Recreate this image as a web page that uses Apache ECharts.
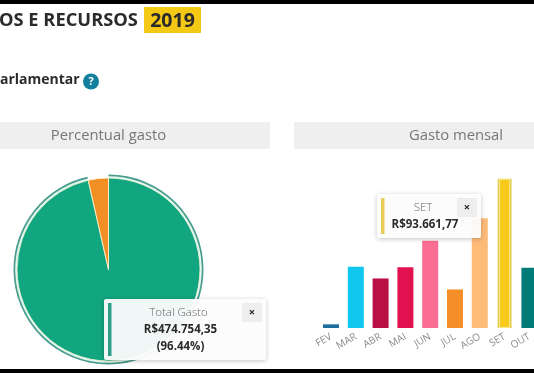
<!DOCTYPE html>
<html>
<head>
<meta charset="utf-8">
<style>
html, body { margin: 0; padding: 0; background: #fff; }
#main { width: 534px; height: 373px; }
</style>
<script src="https://cdn.jsdelivr.net/npm/echarts@6/dist/echarts.min.js"></script>
</head>
<body>
<div id="main"></div>
<script>
const pieNames = ['Total Gasto', 'Disponível'];
const pieValues = [474754.35, 17520];
const pieColors = ['#12a680', '#f28f24'];

const months = ['FEV', 'MAR', 'ABR', 'MAI', 'JUN', 'JUL', 'AGO', 'SET', 'OUT'];
const monthValues = [2300, 38500, 31100, 38100, 54800, 24200, 68900, 93661.77, 37800];
const monthColors = ['#1b6d9b', '#10c7ef', '#b80f45', '#e1124f', '#fb6d93', '#f48e29', '#fdbb78', '#f8ca1c', '#007b78'];
const selectedMonth = 'SET';

const font = '"Open Sans"';

var chart = echarts.init(document.getElementById('main'));

// caixa de tooltip fixa, igual as do painel
function tipBox(x, y, w, h, color, lines) {
    var els = [
        { type: 'rect', shape: { x: x, y: y, width: w, height: h, r: 2 },
          style: { fill: 'rgba(255,255,255,0.94)', shadowBlur: 5, shadowColor: 'rgba(0,0,0,0.25)', shadowOffsetY: 1 }, z: 20 },
        { type: 'rect', shape: { x: x + 4, y: y + 4, width: 3.5, height: h - 8 }, style: { fill: color }, z: 21 },
        { type: 'rect', shape: { x: x + w - 24, y: y + 4, width: 20, height: 19 }, style: { fill: '#eeeeee' }, z: 21 },
        { type: 'text', x: x + w - 14, y: y + 13.5, z: 22,
          style: { text: '×', fill: '#222', font: 'bold 11px ' + font, textAlign: 'center', textVerticalAlign: 'middle' } }
    ];
    lines.forEach(function (l) {
        els.push({ type: 'text', x: l.x, y: l.y, z: 22,
            style: { text: l.text, fill: l.bold ? '#2b2b2b' : '#666', font: (l.bold ? 'bold 11.5px ' : '300 11.5px ') + font,
                     textAlign: 'center', textVerticalAlign: 'middle' } });
    });
    return els;
}

var graphics = [
    { type: 'rect', shape: { x: 0, y: 0, width: 534, height: 4 }, style: { fill: '#000' }, z: 30 },
    { type: 'rect', shape: { x: 0, y: 369, width: 534, height: 4 }, style: { fill: '#000' }, z: 30 },
    { type: 'text', x: -1, y: 21, style: { text: 'OS E RECURSOS', fill: '#2b2b2b', font: 'bold 18.3px ' + font, textVerticalAlign: 'middle' } },
    { type: 'rect', shape: { x: 144, y: 7, width: 57, height: 26 }, style: { fill: '#f4c916' } },
    { type: 'text', x: 172.5, y: 21, style: { text: '2019', fill: '#2b2b2b', font: 'bold 19.5px ' + font, textAlign: 'center', textVerticalAlign: 'middle' } },
    { type: 'text', x: 0, y: 80.5, style: { text: 'arlamentar', fill: '#2b2b2b', font: 'bold 14px ' + font, textVerticalAlign: 'middle' } },
    { type: 'circle', shape: { cx: 91, cy: 81.5, r: 8 }, style: { fill: '#137f9f' } },
    { type: 'text', x: 91, y: 81.5, style: { text: '?', fill: '#fff', font: 'bold 11px ' + font, textAlign: 'center', textVerticalAlign: 'middle' } },
    { type: 'rect', shape: { x: 0, y: 122, width: 270, height: 27 }, style: { fill: '#efefef' } },
    { type: 'text', x: 108.5, y: 135.5, style: { text: 'Percentual gasto', fill: '#777', font: '14.8px ' + font, textAlign: 'center', textVerticalAlign: 'middle' } },
    { type: 'rect', shape: { x: 294, y: 122, width: 240, height: 27 }, style: { fill: '#efefef' } },
    { type: 'text', x: 456, y: 135.5, style: { text: 'Gasto mensal', fill: '#777', font: '14.8px ' + font, textAlign: 'center', textVerticalAlign: 'middle' } }
].concat(
    tipBox(104, 299, 162, 61, '#2f9d86', [
        { text: 'Total Gasto', x: 178.5, y: 313 },
        { text: 'R$474.754,35', x: 180.5, y: 330, bold: true },
        { text: '(96.44%)', x: 180.5, y: 347, bold: true }
    ]),
    tipBox(377, 194, 104, 44, '#e7cd55', [
        { text: 'SET', x: 423, y: 208 },
        { text: 'R$93.661,77', x: 425, y: 225, bold: true }
    ])
);

function selectedOnly() {
    return months.map(function (m, i) { return m == selectedMonth ? monthValues[i] : null; });
}

var option = {
    animation: false,
    textStyle: { fontFamily: font },
    graphic: graphics,
    grid: { left: 318.6, top: 170, width: 223.2, height: 158, containLabel: false, outerBoundsMode: 'none' },
    xAxis: [{
        type: 'category',
        data: months,
        axisLine: { show: false },
        axisTick: { show: false },
        axisLabel: { rotate: 30, color: '#8a8a8a', fontSize: 10, margin: 8, interval: 0 }
    }, {
        type: 'category',
        data: months,
        show: false
    }, {
        type: 'category',
        data: months,
        show: false
    }],
    yAxis: { type: 'value', min: 0, max: 99200, show: false },
    series: [
        {
            // anel em volta da fatia destacada
            type: 'pie',
            silent: true,
            center: [108.5, 269.5],
            radius: [91, 95],
            startAngle: 90,
            label: { show: false },
            data: pieNames.map(function (n, i) {
                return { name: n, value: pieValues[i], itemStyle: { color: i == 0 ? '#dff5f0' : 'transparent' } };
            })
        },
        {
            type: 'pie',
            silent: true,
            center: [108.5, 269.5],
            radius: [93.3, 95],
            startAngle: 90,
            label: { show: false },
            data: pieNames.map(function (n, i) {
                return { name: n, value: pieValues[i], itemStyle: { color: i == 0 ? '#4a9c8c' : 'transparent' } };
            })
        },
        {
            type: 'pie',
            center: [108.5, 269.5],
            radius: [0, 91.5],
            startAngle: 90,
            label: { show: false },
            itemStyle: { borderColor: '#fff6d8', borderWidth: 0.8 },
            data: pieNames.map(function (n, i) {
                return { name: n, value: pieValues[i], itemStyle: { color: pieColors[i] } };
            })
        },
        {
            // contorno da barra selecionada
            type: 'bar',
            xAxisIndex: 1,
            barWidth: 14,
            z: 1,
            itemStyle: { color: '#f9e88f', borderColor: '#e6cd58', borderWidth: 2.5 },
            data: selectedOnly()
        },
        {
            type: 'bar',
            xAxisIndex: 2,
            barWidth: 11,
            z: 2,
            itemStyle: { color: '#f8ca1c', borderColor: '#f9e88f', borderWidth: 1 },
            data: selectedOnly()
        },
        {
            type: 'bar',
            barWidth: 16,
            z: 2,
            data: months.map(function (m, i) {
                if (m == selectedMonth) return null;
                return { value: monthValues[i], itemStyle: { color: monthColors[i] } };
            })
        }
    ]
};
chart.setOption(option);
</script>
</body>
</html>
